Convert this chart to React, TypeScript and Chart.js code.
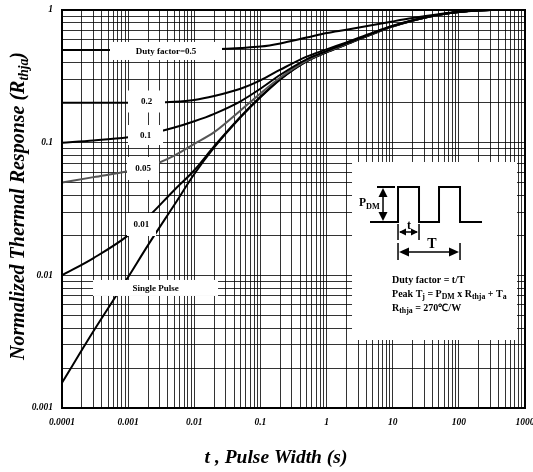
import { useEffect, useRef } from 'react';
import { Chart, registerables } from 'chart.js';

Chart.register(...registerables);

// ---- data ----
const pulseWidth = [1e-4, 3e-4, 1e-3, 2e-3, 5e-3, 0.01, 0.02, 0.05, 0.1, 0.2, 0.5, 1, 2, 5, 10, 20, 50, 100, 300, 1000];
const dutySingle = [0.00155, 0.0038, 0.0097, 0.0169, 0.034, 0.058, 0.092, 0.155, 0.22, 0.3, 0.41, 0.48, 0.55, 0.66, 0.75, 0.83, 0.92, 0.965, 1, 1];
const duty001 = [0.01, 0.0135, 0.02, 0.0275, 0.044, 0.062, 0.094, 0.157, 0.222, 0.302, 0.412, 0.482, 0.552, 0.662, 0.752, 0.832, 0.921, 0.966, 1, 1];
const duty005 = [0.05, 0.055, 0.061, 0.066, 0.08, 0.098, 0.12, 0.175, 0.235, 0.31, 0.415, 0.485, 0.555, 0.665, 0.754, 0.833, 0.921, 0.966, 1, 1];
const duty01 = [0.1, 0.104, 0.11, 0.116, 0.13, 0.145, 0.165, 0.205, 0.255, 0.325, 0.425, 0.49, 0.56, 0.668, 0.756, 0.834, 0.922, 0.966, 1, 1];
const duty02 = [0.2, 0.2, 0.2, 0.2, 0.203, 0.21, 0.225, 0.255, 0.295, 0.355, 0.445, 0.505, 0.57, 0.675, 0.76, 0.836, 0.923, 0.967, 1, 1];
const duty05 = [0.5, 0.5, 0.5, 0.5, 0.5, 0.503, 0.507, 0.518, 0.53, 0.56, 0.62, 0.67, 0.71, 0.77, 0.82, 0.87, 0.93, 0.97, 1, 1];

const seriesLabels = ['Duty factor=0.5', '0.2', '0.1', '0.05', '0.01', 'Single Pulse'];

const xTickValues = [1e-4, 1e-3, 1e-2, 0.1, 1, 10, 100, 1000];
const xTickLabels = ['0.0001', '0.001', '0.01', '0.1', '1', '10', '100', '1000'];
const yTickValues = [0.001, 0.01, 0.1, 1];
const yTickLabels = ['0.001', '0.01', '0.1', '1'];

const xTitle = 't , Pulse Width (s)';
const yTitleParts: [string, boolean][] = [['Normalized Thermal Response (R', false], ['thja', true], [')', false]];

const FONT = '"Liberation Serif", "Times New Roman", serif';

function minorTicks(decades: number[]) {
  const out: number[] = [];
  for (let i = 0; i < decades.length; i++) {
    const d = decades[i];
    out.push(d);
    if (i < decades.length - 1) {
      for (let k = 2; k <= 9; k++) out.push(d * k);
    }
  }
  return out;
}

function labelFor(v: number, values: number[], labels: string[]) {
  for (let i = 0; i < values.length; i++) {
    if (Math.abs(Math.log10(v) - Math.log10(values[i])) < 1e-6) return labels[i];
  }
  return '';
}

function drawRich(ctx: CanvasRenderingContext2D, parts: [string, boolean][], x: number, y: number, size: number, align: 'left' | 'center', italic: boolean, subRatio = 0.68) {
  const f = (s: number) => `${italic ? 'italic ' : ''}bold ${s}px ${FONT}`;
  const subSize = size * subRatio;
  let total = 0;
  parts.forEach(([t, sub]) => {
    ctx.font = f(sub ? subSize : size);
    total += ctx.measureText(t).width;
  });
  let cx = align === 'center' ? x - total / 2 : x;
  ctx.textAlign = 'left';
  ctx.textBaseline = 'alphabetic';
  parts.forEach(([t, sub]) => {
    ctx.font = f(sub ? subSize : size);
    ctx.fillText(t, cx, sub ? y + size * 0.22 : y);
    cx += ctx.measureText(t).width;
  });
}

function arrowHead(ctx: CanvasRenderingContext2D, x: number, y: number, dx: number, dy: number, len: number, half: number) {
  const px = -dy, py = dx;
  ctx.beginPath();
  ctx.moveTo(x, y);
  ctx.lineTo(x - dx * len + px * half, y - dy * len + py * half);
  ctx.lineTo(x - dx * len - px * half, y - dy * len - py * half);
  ctx.closePath();
  ctx.fill();
}

// label boxes (data coordinates of centers, pixel sizes)
const labelBoxes = [
  { i: 0, x: 0.003736, y: 0.491, w: 112, h: 18 },
  { i: 1, x: 0.001895, y: 0.2043, w: 37, h: 22 },
  { i: 2, x: 0.00183, y: 0.1142, w: 35, h: 20 },
  { i: 3, x: 0.001678, y: 0.0639, w: 32, h: 23 },
  { i: 4, x: 0.001592, y: 0.02416, w: 29, h: 23 },
  { i: 5, x: 0.002593, y: 0.00803, w: 125, h: 16 },
];

const overlayPlugin = {
  id: 'overlay',
  afterDatasetsDraw(chart: any) {
    const { ctx, chartArea } = chart;
    const xs = chart.scales.x;
    const ys = chart.scales.y;
    ctx.save();
    labelBoxes.forEach((b) => {
      const cx = xs.getPixelForValue(b.x);
      const cy = ys.getPixelForValue(b.y);
      ctx.fillStyle = '#fff';
      ctx.fillRect(cx - b.w / 2, cy - b.h / 2, b.w, b.h);
      ctx.fillStyle = '#000';
      ctx.font = `bold 9px ${FONT}`;
      ctx.textAlign = 'center';
      ctx.textBaseline = 'middle';
      ctx.fillText(seriesLabels[b.i], cx, cy + 0.5);
    });

    // inset box
    const L = xs.getPixelForValue(2.425);
    const R = xs.getPixelForValue(757.5);
    const T = ys.getPixelForValue(0.0715);
    const B = ys.getPixelForValue(0.003255);
    ctx.fillStyle = '#fff';
    ctx.fillRect(L, T, R - L, B - T);

    ctx.strokeStyle = '#000';
    ctx.fillStyle = '#000';
    ctx.lineWidth = 2;
    const hi = T + 25;
    const lo = T + 60;
    ctx.beginPath();
    ctx.moveTo(L + 18, lo);
    ctx.lineTo(L + 46, lo);
    ctx.lineTo(L + 46, hi);
    ctx.lineTo(L + 67, hi);
    ctx.lineTo(L + 67, lo);
    ctx.lineTo(L + 87, lo);
    ctx.lineTo(L + 87, hi);
    ctx.lineTo(L + 108, hi);
    ctx.lineTo(L + 108, lo);
    ctx.lineTo(L + 130, lo);
    ctx.stroke();
    ctx.beginPath();
    ctx.moveTo(L + 25, hi);
    ctx.lineTo(L + 43, hi);
    ctx.stroke();
    ctx.lineWidth = 1.5;
    ctx.beginPath();
    ctx.moveTo(L + 31, hi + 6);
    ctx.lineTo(L + 31, lo - 6);
    ctx.stroke();
    arrowHead(ctx, L + 31, hi + 1, 0, -1, 9, 4.5);
    arrowHead(ctx, L + 31, lo - 1, 0, 1, 9, 4.5);
    drawRich(ctx, [['P', false], ['DM', true]], L + 7, T + 44, 11.5, 'left', false, 0.72);

    const ty = T + 70;
    ctx.lineWidth = 1.5;
    ctx.beginPath();
    ctx.moveTo(L + 46, ty - 8);
    ctx.lineTo(L + 46, ty + 8);
    ctx.moveTo(L + 67, ty - 8);
    ctx.lineTo(L + 67, ty + 8);
    ctx.moveTo(L + 48, ty);
    ctx.lineTo(L + 65, ty);
    ctx.stroke();
    arrowHead(ctx, L + 47, ty, -1, 0, 7, 3.5);
    arrowHead(ctx, L + 66, ty, 1, 0, 7, 3.5);
    ctx.font = `bold 12px ${FONT}`;
    ctx.textAlign = 'center';
    ctx.textBaseline = 'alphabetic';
    ctx.fillText('t', L + 57, T + 67);

    const Ty = T + 90;
    ctx.beginPath();
    ctx.moveTo(L + 46, Ty - 9);
    ctx.lineTo(L + 46, Ty + 8);
    ctx.moveTo(L + 108, Ty - 9);
    ctx.lineTo(L + 108, Ty + 8);
    ctx.moveTo(L + 50, Ty);
    ctx.lineTo(L + 104, Ty);
    ctx.stroke();
    arrowHead(ctx, L + 47, Ty, -1, 0, 10, 4.5);
    arrowHead(ctx, L + 107, Ty, 1, 0, 10, 4.5);
    ctx.font = `bold 14px ${FONT}`;
    ctx.textAlign = 'center';
    ctx.fillText('T', L + 80, T + 86);

    const tx = L + 40;
    drawRich(ctx, [['Duty factor = t/T', false]], tx, T + 121, 10, 'left', false);
    drawRich(ctx, [['Peak T', false], ['j', true], [' = P', false], ['DM', true], [' x R', false], ['thja', true], [' + T', false], ['a', true]], tx, T + 135, 10, 'left', false, 0.78);
    drawRich(ctx, [['R', false], ['thja', true], [' = 270\u2103/W', false]], tx, T + 149, 10, 'left', false, 0.78);

    ctx.strokeStyle = '#000';
    ctx.lineWidth = 2;
    ctx.strokeRect(chartArea.left, chartArea.top, chartArea.right - chartArea.left, chartArea.bottom - chartArea.top);
    ctx.restore();
  },
  afterDraw(chart: any) {
    const { ctx } = chart;
    ctx.save();
    ctx.fillStyle = '#000';
    drawRich(ctx, [[xTitle, false]], 276, 463, 19.5, 'center', true);
    ctx.translate(24, 206);
    ctx.rotate(-Math.PI / 2);
    drawRich(ctx, yTitleParts, 0, 0, 20, 'center', true);
    ctx.restore();
  },
};

export default function App() {
  const ref = useRef<HTMLCanvasElement | null>(null);

  useEffect(() => {
    if (!ref.current) return;
    const series = [duty05, duty02, duty01, duty005, duty001, dutySingle];
    const colors = ['#000', '#000', '#000', '#555', '#000', '#000'];
    const datasets = series.map((vals, i) => ({
      label: seriesLabels[i],
      data: pulseWidth.map((x, j) => ({ x, y: vals[j] })),
      borderColor: colors[i],
      borderWidth: 2,
      pointRadius: 0,
      fill: false,
      cubicInterpolationMode: 'monotone' as const,
    }));
    const tickFont = { family: FONT, size: 9.5, style: 'italic' as const, weight: 'bold' as const };
    const chart = new Chart(ref.current, {
      type: 'line',
      data: { datasets },
      options: {
        animation: false,
        responsive: false,
        events: [],
        layout: { padding: { left: 0, top: 10, right: 8, bottom: 0 } },
        plugins: { legend: { display: false }, tooltip: { enabled: false }, title: { display: false } },
        scales: {
          x: {
            type: 'logarithmic',
            min: 1e-4,
            max: 1000,
            afterBuildTicks: (s: any) => {
              s.ticks = minorTicks(xTickValues).map((v) => ({ value: v }));
            },
            afterFit: (s: any) => {
              s.height = 64;
              s.paddingLeft = 0;
              s.paddingRight = 0;
            },
            ticks: {
              autoSkip: false,
              maxRotation: 0,
              minRotation: 0,
              padding: 9,
              color: '#000',
              font: tickFont,
              callback: (v: any) => labelFor(Number(v), xTickValues, xTickLabels),
            },
            grid: { color: 'rgba(0,0,0,0.8)', lineWidth: 1, drawTicks: false },
            border: { display: true, color: '#000', width: 2 },
          },
          y: {
            type: 'logarithmic',
            min: 0.001,
            max: 1,
            afterBuildTicks: (s: any) => {
              s.ticks = minorTicks(yTickValues).map((v) => ({ value: v }));
            },
            afterFit: (s: any) => {
              s.width = 62;
              s.paddingTop = 0;
              s.paddingBottom = 0;
            },
            ticks: {
              autoSkip: false,
              padding: 9,
              color: '#000',
              font: tickFont,
              callback: (v: any) => labelFor(Number(v), yTickValues, yTickLabels),
            },
            grid: { color: 'rgba(0,0,0,0.8)', lineWidth: 1, drawTicks: false },
            border: { display: true, color: '#000', width: 2 },
          },
        },
      },
      plugins: [overlayPlugin],
    });
    return () => chart.destroy();
  }, []);

  return (
    <div style={{ position: 'absolute', left: 0, top: 0, width: 533, height: 472, background: '#fff' }}>
      <canvas ref={ref} width={533} height={472} style={{ width: 533, height: 472 }} />
    </div>
  );
}
